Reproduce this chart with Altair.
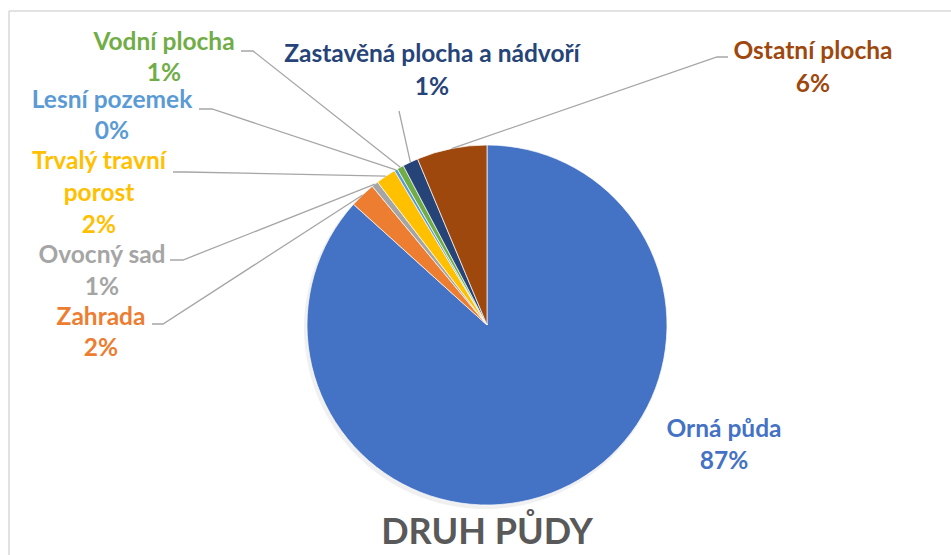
import math
import altair as alt
import pandas as pd

# ---- data ----
categories = ["Orná půda", "Zahrada", "Ovocný sad", "Trvalý travní porost",
              "Lesní pozemek", "Vodní plocha", "Zastavěná plocha a nádvoří", "Ostatní plocha"]
shares = [86.7, 2.3, 0.6, 1.8, 0.3, 0.6, 1.4, 6.3]
pct_labels = ["87%", "2%", "1%", "2%", "0%", "1%", "1%", "6%"]
colors = ["#4472C4", "#ED7D31", "#A5A5A5", "#FFC000", "#5B9BD5", "#70AD47", "#264478", "#9E480E"]
title_text = "DRUH PŮDY"

# ---- layout (pixels) ----
W, H = 951, 555
CX, CY, R = 487, 325, 180
FONT = "Lato"
FS = 24.5
label_lines = {
    "Orná půda": (["Orná půda", "87%"], 724, [430, 462]),
    "Zahrada": (["Zahrada", "2%"], 101, [318, 349]),
    "Ovocný sad": (["Ovocný sad", "1%"], 102, [256, 288]),
    "Trvalý travní porost": (["Trvalý travní", "porost", "2%"], 99, [162, 194, 226]),
    "Lesní pozemek": (["Lesní pozemek", "0%"], 112, [101, 132]),
    "Vodní plocha": (["Vodní plocha", "1%"], 164, [43, 74]),
    "Zastavěná plocha a nádvoří": (["Zastavěná plocha a nádvoří", "1%"], 432, [55, 88]),
    "Ostatní plocha": (["Ostatní plocha", "6%"], 813, [52, 85]),
}
leader_start = {
    "Zahrada": [(152, 324), (163, 324)],
    "Ovocný sad": [(170, 260), (183, 260)],
    "Trvalý travní porost": [(173, 172), (185, 172)],
    "Lesní pozemek": [(199, 109), (212, 109)],
    "Vodní plocha": [(241, 51), (253, 51)],
    "Zastavěná plocha a nádvoří": [(399, 111)],
    "Ostatní plocha": [(728, 57), (717, 57)],
}

pie_df = pd.DataFrame({
    "category": categories,
    "share": shares,
    "order": list(range(len(categories))),
    "color": colors,
})

# slice mid-angles from the data -> leader line end points on the pie edge
total = sum(shares)
cum = 0.0
mid_angle = {}
for c, s in zip(categories, shares):
    mid_angle[c] = (cum + s / 2) / total * 2 * math.pi
    cum += s

line_rows = []
for c, pts in leader_start.items():
    a = mid_angle[c]
    ex, ey = CX + R * math.sin(a), CY - R * math.cos(a)
    allpts = pts + [(ex, ey)]
    for i, (px, py) in enumerate(allpts):
        line_rows.append({"cat": c, "i": i, "px": px, "py": py})
lines_df = pd.DataFrame(line_rows)

text_rows = []
for c, col, pl in zip(categories, colors, pct_labels):
    lines, tx, ys = label_lines[c]
    for t, y in zip(lines, ys):
        text_rows.append({"t": t, "tx": tx, "ty": y, "col": col})
text_df = pd.DataFrame(text_rows)

frame = alt.Chart(pd.DataFrame({"a": [0]})).mark_rule(color="#D9D9D9", strokeWidth=1.5)
frame_left = frame.encode(x=alt.value(9), y=alt.value(11), y2=alt.value(H))
frame_top = frame.encode(x=alt.value(9), x2=alt.value(W), y=alt.value(11))

shadow = alt.Chart(pie_df).mark_arc(outerRadius=R + 1, color="#000000", opacity=0.06).encode(
    theta=alt.Theta("share:Q", stack=True),
    order=alt.Order("order:Q"),
    x=alt.value(CX - 2),
    y=alt.value(CY + 3),
)

pie = alt.Chart(pie_df).mark_arc(outerRadius=R, stroke="white", strokeWidth=0.7).encode(
    theta=alt.Theta("share:Q", stack=True),
    order=alt.Order("order:Q"),
    color=alt.Color("color:N", scale=None),
    x=alt.value(CX),
    y=alt.value(CY),
)

leaders = alt.Chart(lines_df).mark_line(color="#A6A6A6", strokeWidth=1.3).encode(
    x=alt.X("px:Q", scale=None),
    y=alt.Y("py:Q", scale=None),
    detail="cat:N",
    order="i:Q",
)

labels = alt.Chart(text_df).mark_text(
    font=FONT, fontSize=FS, fontWeight="bold", align="center", baseline="middle"
).encode(
    x=alt.X("tx:Q", scale=None),
    y=alt.Y("ty:Q", scale=None),
    text="t:N",
    color=alt.Color("col:N", scale=None),
)

title = alt.Chart(pd.DataFrame({"t": [title_text]})).mark_text(
    font=FONT, fontSize=36, fontWeight="bold", color="#595959", align="center", baseline="middle"
).encode(x=alt.value(CX), y=alt.value(533), text="t:N")

chart = alt.layer(frame_left, frame_top, shadow, pie, leaders, labels, title).properties(
    width=W, height=H, autosize=alt.AutoSizeParams(type="none"), padding=0
).configure_view(stroke=None)

chart.save("out.html", embed_options={"renderer": "svg", "actions": False})
